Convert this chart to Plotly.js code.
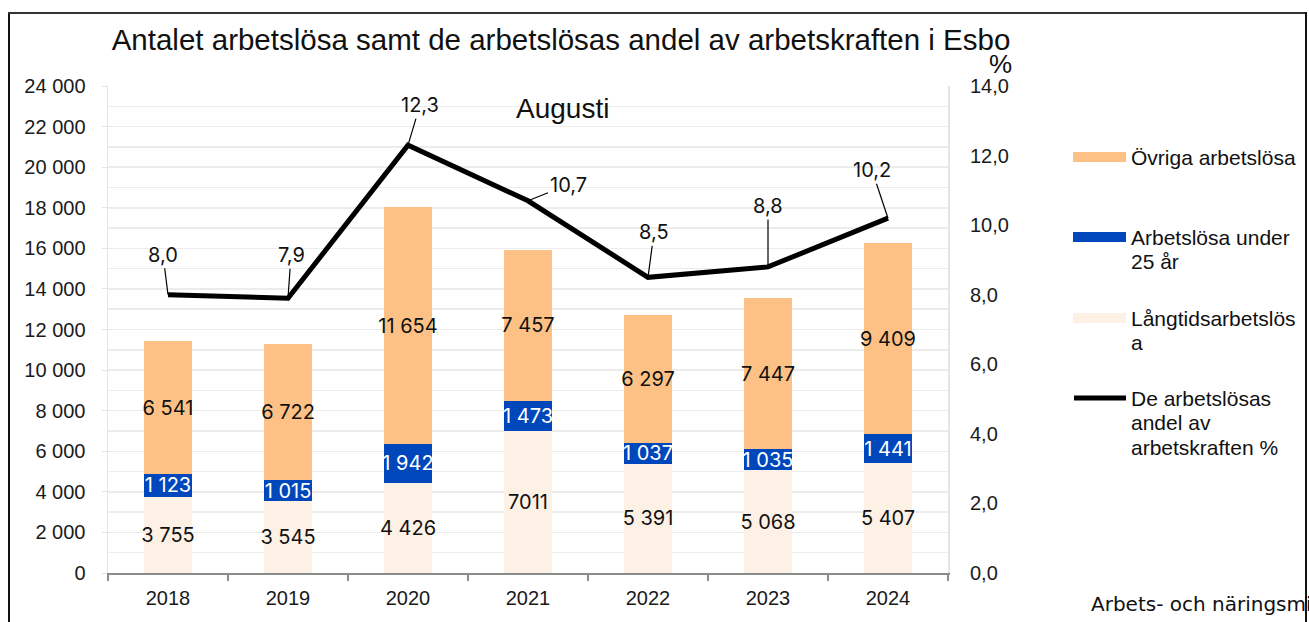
<!DOCTYPE html>
<html><head><meta charset="utf-8">
<script src="https://cdn.plot.ly/plotly-3.0.1.min.js"></script>
<style>html,body{margin:0;padding:0;background:#fff}#c{width:1309px;height:622px}</style>
</head><body><div id="c"></div>
<script>
const years = ["2018","2019","2020","2021","2022","2023","2024"];
const longTerm = [3755, 3545, 4426, 7011, 5391, 5068, 5407];
const longTermLabels = ["3 755","3 545","4 426","7011","5 391","5 068","5 407"];
const under25 = [1123, 1015, 1942, 1473, 1037, 1035, 1441];
const others = [6541, 6722, 11654, 7457, 6297, 7447, 9409];
const sharePct = [8.0, 7.9, 12.3, 10.7, 8.5, 8.8, 10.2];
const seriesNames = ["Övriga arbetslösa", "Arbetslösa under<br>25 år", "Långtidsarbetslös<br>a", "De arbetslösas<br>andel av<br>arbetskraften %"];
const colors = {others:"#FDC186", under25:"#0047BB", longTerm:"#FDF0E4", line:"#000000"};

const labelFont = {family:"Inter, 'Noto Sans', sans-serif", size:20, color:"#111"};
const tickFont = {family:"'Liberation Sans', Arial, sans-serif", size:20, color:"#1a1a1a"};
const arial = "'Liberation Sans', Arial, sans-serif";

const barCommon = {textposition:"inside", insidetextanchor:"middle", textangle:0,
  constraintext:"none", hoverinfo:"skip"};
const traces = [
  Object.assign({type:"bar", x:years, y:longTerm, name:seriesNames[2], marker:{color:colors.longTerm},
   text:longTermLabels, texttemplate:"%{text}", textfont:labelFont}, barCommon),
  Object.assign({type:"bar", x:years, y:under25, name:seriesNames[1], marker:{color:colors.under25},
   texttemplate:"%{y:,.0f}", textfont:Object.assign({}, labelFont, {color:"#fff"})}, barCommon),
  Object.assign({type:"bar", x:years, y:others, name:seriesNames[0], marker:{color:colors.others},
   texttemplate:"%{y:,.0f}", textfont:labelFont}, barCommon),
  {type:"scatter", mode:"lines", x:years, y:sharePct, yaxis:"y2", name:seriesNames[3],
   line:{color:colors.line, width:5}, hoverinfo:"skip"}
];

// leader-line offsets (px) for the line labels
const labelOffsets = [[-5,-40],[3,-43],[12,-40],[40,-16],[6,-45],[0,-61],[-16,-48]];
const annotations = sharePct.map((v,i)=>({
  x:i, y:v, xref:"x", yref:"y2", text:v.toFixed(1).replace(".",","),
  showarrow:true, arrowhead:0, arrowwidth:1.2, arrowcolor:"#000",
  ax:labelOffsets[i][0], ay:labelOffsets[i][1], standoff:0, font:labelFont
}));

// helpers to convert pixel positions to paper coords
const L=108, R=948, T=86, B=573;
const px = p => (p-L)/(R-L);
const py = p => (B-p)/(B-T);

annotations.push({xref:"paper", yref:"paper", x:px(562), y:py(108), xanchor:"center", yanchor:"middle", text:"Augusti", showarrow:false,
  font:{family:arial, size:28, color:"#111"}});
annotations.push({xref:"paper", yref:"paper", x:px(1000), y:py(64), xanchor:"center", yanchor:"middle", text:"%", showarrow:false,
  font:{family:arial, size:26, color:"#111"}});
annotations.push({xref:"paper", yref:"paper", x:px(1089), y:py(604), xanchor:"left", yanchor:"middle", text:"Arbets- och näringsministeriet", showarrow:false,
  font:{family:"'DejaVu Sans', 'Noto Sans', sans-serif", size:20, color:"#111"}});

// legend built from series names
const legendRows = [
  {name:seriesNames[0], color:colors.others, y:157, kind:"bar"},
  {name:seriesNames[1], color:colors.under25, y:237, kind:"bar"},
  {name:seriesNames[2], color:colors.longTerm, y:318, kind:"bar"},
  {name:seriesNames[3], color:colors.line, y:398, kind:"line"}
];
const shapes = [];
legendRows.forEach(r=>{
  if (r.kind==="bar") {
    shapes.push({type:"rect", xref:"paper", yref:"paper", x0:px(1073), x1:px(1126), y0:py(r.y-5), y1:py(r.y+5),
      fillcolor:r.color, line:{width:0}});
  } else {
    shapes.push({type:"line", xref:"paper", yref:"paper", x0:px(1074), x1:px(1126), y0:py(r.y), y1:py(r.y),
      line:{color:r.color, width:5}});
  }
  r.name.split("<br>").forEach((ln,k)=>{
    annotations.push({xref:"paper", yref:"paper", x:px(1129), y:py(r.y + k*24.5), xanchor:"left", yanchor:"middle", align:"left",
      text:ln, showarrow:false, font:{family:arial, size:21, color:"#111"}});
  });
});
// outer frame
shapes.push({type:"line", xref:"paper", yref:"paper", x0:px(9), x1:px(9), y0:py(12), y1:py(640), line:{color:"#111", width:2}});
shapes.push({type:"line", xref:"paper", yref:"paper", x0:px(8), x1:px(1306), y0:py(13), y1:py(13), line:{color:"#333", width:2}});
shapes.push({type:"line", xref:"paper", yref:"paper", x0:px(1306), x1:px(1306), y0:py(12), y1:py(640), line:{color:"#111", width:2}});

const layout = {
  width:1309, height:622,
  margin:{l:L, r:1309-R, t:T, b:622-B, pad:0},
  paper_bgcolor:"#fff", plot_bgcolor:"#fff",
  separators:", ",
  barmode:"stack", bargap:0.6,
  showlegend:false,
  title:{text:"Antalet arbetslösa samt de arbetslösas andel av arbetskraften i Esbo",
    font:{family:arial, size:29.5, color:"#111"},
    xref:"paper", x:px(561), xanchor:"center", yref:"container", y:1-40/622, yanchor:"middle"},
  xaxis:{type:"category", range:[-0.5, years.length-0.5], tickfont:tickFont, ticks:"outside", tickson:"boundaries", ticklen:6,
    tickcolor:"#8c8c8c", tickwidth:1.5, showline:true, linecolor:"#8c8c8c", linewidth:2, showgrid:false,
    ticklabelstandoff:6},
  yaxis:{range:[0,24000], dtick:2000, tickformat:",.0f", tickfont:tickFont, ticks:"outside", ticklen:5,
    tickcolor:"#e4e4e4", showgrid:true, gridcolor:"#ececec", gridwidth:1.5, zeroline:false,
    showline:true, linecolor:"#e4e4e4", linewidth:1.5, mirror:true, ticklabelstandoff:12,
    minor:{dtick:1000, showgrid:true, gridcolor:"#ececec", gridwidth:1.5}},
  yaxis2:{range:[0,14], dtick:2, tickformat:".1f", overlaying:"y", side:"right", tickfont:tickFont,
    showgrid:false, zeroline:false, showline:false, ticks:"", ticklabelstandoff:21},
  annotations:annotations,
  shapes:shapes
};

Plotly.newPlot("c", traces, layout, {displayModeBar:false, staticPlot:true});
</script></body></html>
